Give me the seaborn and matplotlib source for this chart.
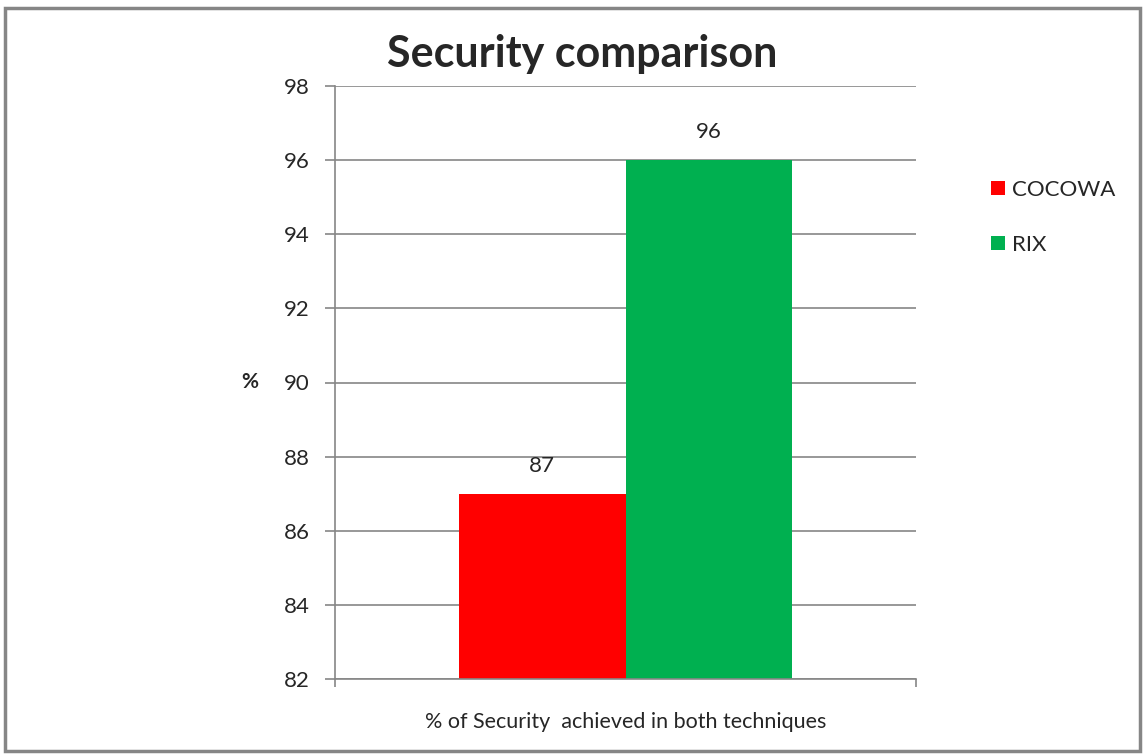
import matplotlib
matplotlib.use("Agg")
import matplotlib.pyplot as plt
import seaborn as sns
import pandas as pd
from matplotlib.patches import Rectangle

categories = ["% of Security  achieved in both techniques"]
series = ["COCOWA", "RIX"]
values = [87, 96]
colors = ["#FF0000", "#00B050"]
yticks = [82, 84, 86, 88, 90, 92, 94, 96, 98]

sns.set_style("white")
plt.rcParams['font.family'] = ['Lato', 'DejaVu Sans']

df = pd.DataFrame({"cat": categories * len(series), "series": series, "value": values})

fig = plt.figure(figsize=(11.48, 7.56), dpi=100)
ax = fig.add_axes([335/1148, 1-679/756, (916-335)/1148, (679-86)/756])

sns.barplot(data=df, x="cat", y="value", hue="series", palette=colors,
            width=0.573, ax=ax, legend=True, saturation=1, edgecolor="none")

ax.set_ylim(82, 98)
ax.set_xlim(-0.5, 0.5)
ax.set_yticks(yticks)
ax.set_yticklabels([str(t) for t in yticks], fontsize=16)
ax.yaxis.grid(True, color="#868686", linewidth=1.2)
ax.set_axisbelow(True)
for s in ["top", "right"]:
    ax.spines[s].set_visible(False)
for s in ["left", "bottom"]:
    ax.spines[s].set_color("#868686")
    ax.spines[s].set_linewidth(1.2)
ax.tick_params(axis="y", length=7, width=1.2, color="#868686", left=True, pad=11)
ax.set_xticks([-0.5, 0.5])
ax.set_xticklabels(["", ""])
ax.tick_params(axis="x", length=6, width=1.2, color="#868686", bottom=True)
ax.set_xlabel(categories[0], fontsize=15.5, labelpad=14)
ax.set_ylabel("%", fontsize=15, fontweight="bold", rotation=0, labelpad=25, va="center")

for c in ax.containers:
    ax.bar_label(c, fmt="%d", fontsize=16, padding=13)

leg = ax.legend(loc="upper left", bbox_to_anchor=(1.095, 0.875), frameon=False,
                fontsize=16, handlelength=0.6, handleheight=0.6, handletextpad=0.35,
                labelspacing=1.55)
for h in leg.legend_handles:
    h.set_edgecolor("none")

fig.text(582/1148, 1-54/756, "Security comparison", fontsize=31, fontweight="bold",
         ha="center", va="center")

fig.patches.append(Rectangle((5/1148, 5/756), 1135/1148, 743/756, transform=fig.transFigure,
                             fill=False, edgecolor="#868686", linewidth=2.5))

fig.savefig("out.png", dpi=100)
